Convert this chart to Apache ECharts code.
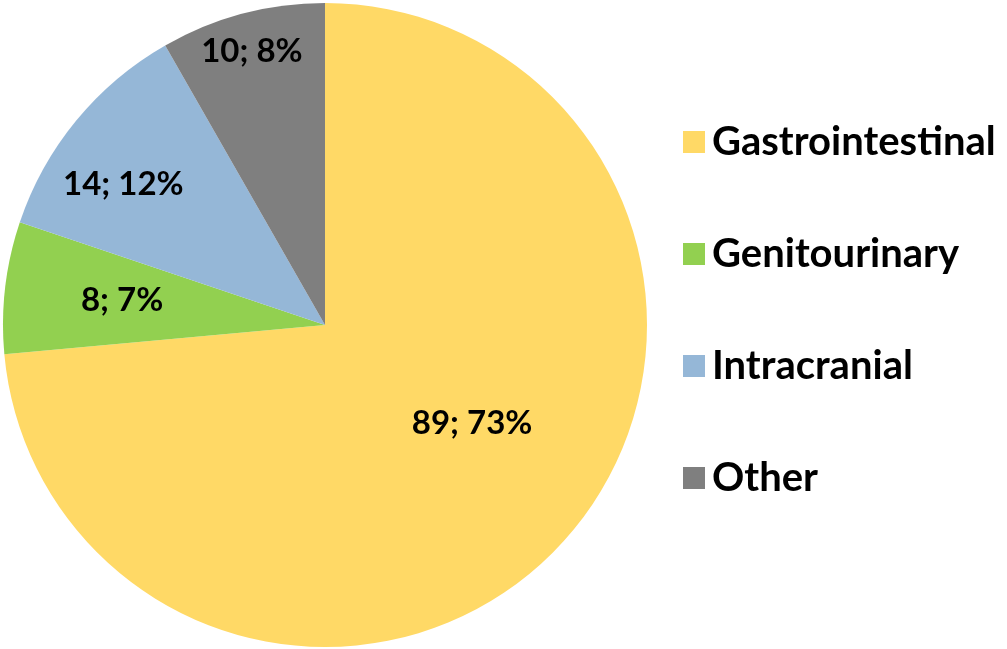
<!DOCTYPE html>
<html>
<head>
<meta charset="utf-8">
<script src="https://cdn.jsdelivr.net/npm/echarts@6/dist/echarts.min.js"></script>
<style>
  html, body { margin: 0; padding: 0; background: #fff; }
  #chart { width: 1007px; height: 649px; }
</style>
</head>
<body>
<div id="chart"></div>
<script>
// data
const categories = ["Gastrointestinal", "Genitourinary", "Intracranial", "Other"];
const counts = [89, 8, 14, 10];
const colors = ["#FFD966", "#92D050", "#95B7D7", "#7F7F7F"];
// nudges so labels sit where the original put them
const labelOffsets = [[26, -12], [-40, -6], [-75, -36], [-31, -115]];

const chart = echarts.init(document.getElementById("chart"));

const option = {
  animation: false,
  backgroundColor: "#fff",
  legend: {
    orient: "vertical",
    left: 678,
    top: 117,
    itemWidth: 22,
    itemHeight: 22,
    itemGap: 72,
    icon: "rect",
    data: categories,
    textStyle: {
      fontFamily: "Lato",
      fontWeight: "bold",
      fontSize: 40,
      color: "#000",
      lineHeight: 22,
      padding: [0, 0, 0, 2]
    }
  },
  series: [
    {
      type: "pie",
      center: [325, 325],
      radius: [0, 322],
      startAngle: 90,
      clockwise: true,
      percentPrecision: 0,
      avoidLabelOverlap: false,
      itemStyle: { borderWidth: 0 },
      emphasis: { disabled: true },
      label: {
        show: true,
        position: "inside",
        formatter: "{c}; {d}%",
        fontFamily: "Lato",
        fontWeight: "bold",
        fontSize: 33,
        color: "#000"
      },
      labelLine: { show: false },
      data: categories.map((name, i) => ({
        name: name,
        value: counts[i],
        itemStyle: { color: colors[i] },
        label: { offset: labelOffsets[i] }
      }))
    }
  ]
};

chart.setOption(option);
</script>
</body>
</html>
